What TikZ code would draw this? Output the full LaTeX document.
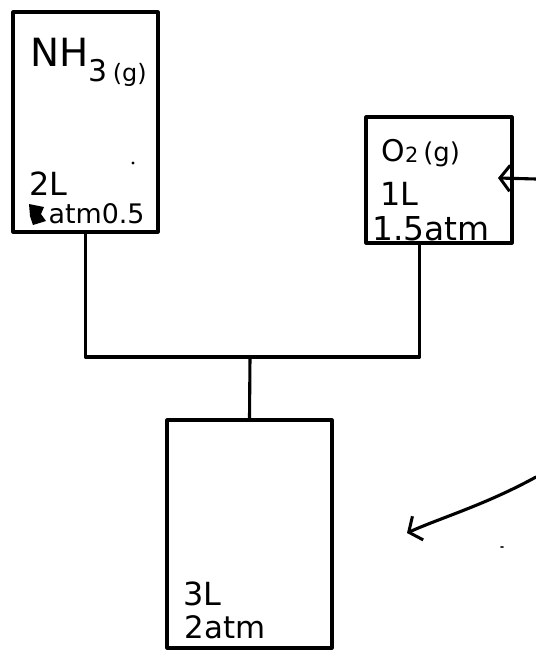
\documentclass[tikz,border=0pt]{standalone}
\usepackage{fontspec}
\setmainfont{DejaVu Sans}
\usetikzlibrary{calc,arrows.meta}
\begin{document}
\begin{tikzpicture}[x=1bp,y=-1bp, line width=3.1bp, line join=round, line cap=round,
  box/.style={draw, rectangle, inner sep=0pt},
  lbl/.style={anchor=base west, inner sep=0pt, font=\fontsize{32}{34}\selectfont},
  tip/.style={-{Straight Barb[length=10bp,width=26bp,line width=3bp]}}]
\useasboundingbox (0,0) rectangle (536,653);
% containers
\node[box, minimum width=145bp, minimum height=220bp] (nh3) at (85.5,122) {};
\node[box, minimum width=146bp, minimum height=126bp] (o2) at (439,180) {};
\node[box, minimum width=165bp, minimum height=228bp] (mix) at (249.5,534) {};
% labels
\node[lbl, font=\fontsize{39}{41}\selectfont] (nh3name) at (29,67)
  {NH\raisebox{-15bp}{\fontsize{30}{32}\selectfont 3\,{\fontsize{24}{26}\selectfont(g)}}};
\node[lbl] (nh3v) at (28,195) {2L};
\node[lbl, font=\fontsize{27}{29}\selectfont] (nh3p) at (47,223) {atm0.5};
\fill (29,204) -- (44,207) -- (41,214) -- (46,221) -- (33,225) -- (30,216) -- cycle;
\fill (133,163) circle (1.6bp);
\node[lbl, font=\fontsize{30}{32}\selectfont] (o2name) at (380,161)
  {O\raisebox{-1bp}{\fontsize{21}{23}\selectfont 2}\,{\fontsize{26}{28}\selectfont(g)}};
\node[lbl] (o2v) at (379,205) {1L};
\node[lbl, font=\fontsize{33}{35}\selectfont] (o2p) at (371,240) {1.5atm};
\node[lbl] (mixv) at (182,605) {3L};
\node[lbl, font=\fontsize{31}{33}\selectfont] (mixp) at (183,638) {2atm};
\fill (502,547) ellipse (2bp and 0.8bp);
% piping
\coordinate (j) at (250,357);
\coordinate (o2port) at ($(o2.south west)!0.37!(o2.south east)$);
\draw (nh3.south) |- (j) -| (o2port);
\draw (j) -- (mix.north);
% arrows
\coordinate (a1s) at (536,179);
\coordinate (a1e) at (498,178);
\draw[tip] (a1s) -- (a1e);
\coordinate (a2s) at (536,477);
\coordinate (a2e) at (407,533);
\draw[tip] (a2s) .. controls (485,505) and (440,518) .. (a2e);
\end{tikzpicture}
\end{document}
